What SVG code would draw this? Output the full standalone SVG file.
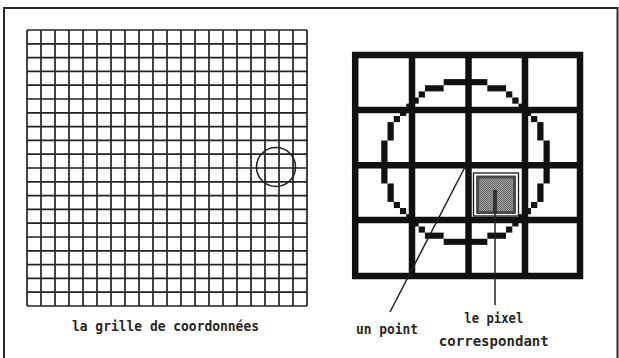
<svg xmlns="http://www.w3.org/2000/svg" width="619" height="358" viewBox="0 0 619 358">
<defs>
<pattern id="tramé" width="2" height="2" patternUnits="userSpaceOnUse">
<rect width="2" height="2" fill="#a4a4a4"/>
<rect width="1" height="1" fill="#666"/>
<rect x="1" y="1" width="1" height="1" fill="#666"/>
</pattern>
</defs>
<style>
.frame{fill:none;stroke:#2a2a2a;stroke-width:2}
.fine{fill:none;stroke:#222;stroke-width:1.7}
.thick{fill:none;stroke:#111;stroke-width:6.5}
.px{fill:#111}
.lead{fill:none;stroke:#222;stroke-width:1.5}
.lbl{font-family:"DejaVu Sans Mono","Liberation Mono",monospace;font-size:14.5px;font-weight:bold;fill:#262626;text-anchor:middle}
</style>
<rect width="619" height="358" fill="#fff"/>
<path class="frame" d="M4 358V8H617.5V358"/>

<g id="grille-coordonnees">
<path class="fine" d="M27 30V306M41 30V306M55 30V306M69 30V306M83 30V306M97 30V306M111 30V306M125 30V306M139 30V306M153 30V306M167 30V306M181 30V306M195 30V306M209 30V306M223 30V306M237 30V306M251 30V306M265 30V306M279 30V306M293 30V306M307 30V306M27 30H307M27 43.8H307M27 57.6H307M27 71.4H307M27 85.2H307M27 99H307M27 112.8H307M27 126.6H307M27 140.4H307M27 154.2H307M27 168H307M27 181.8H307M27 195.6H307M27 209.4H307M27 223.2H307M27 237H307M27 250.8H307M27 264.6H307M27 278.4H307M27 292.2H307M27 306H307"/>
<circle cx="276" cy="167" r="19.5" fill="none" stroke="#222" stroke-width="1.6"/>
<text class="lbl" x="165.5" y="330.5" textLength="187" lengthAdjust="spacingAndGlyphs">la grille de coordonnées</text>
</g>

<g id="grille-pixels">
<g class="px">
<rect x="443.66" y="79.11" width="43.68" height="6.14"/>
<rect x="424.94" y="85.25" width="18.72" height="6.14"/>
<rect x="487.34" y="85.25" width="18.72" height="6.14"/>
<rect x="418.7" y="91.39" width="6.24" height="6.14"/>
<rect x="506.06" y="91.39" width="6.24" height="6.14"/>
<rect x="412.46" y="97.53" width="6.24" height="6.14"/>
<rect x="512.3" y="97.53" width="6.24" height="6.14"/>
<rect x="406.22" y="103.67" width="6.24" height="6.14"/>
<rect x="518.54" y="103.67" width="6.24" height="6.14"/>
<rect x="399.98" y="109.81" width="6.24" height="6.14"/>
<rect x="524.78" y="109.81" width="6.24" height="6.14"/>
<rect x="393.74" y="115.95" width="6.24" height="6.14"/>
<rect x="531.02" y="115.95" width="6.24" height="6.14"/>
<rect x="387.5" y="122.09" width="6.24" height="18.42"/>
<rect x="537.26" y="122.09" width="6.24" height="18.42"/>
<rect x="381.26" y="140.51" width="6.24" height="42.98"/>
<rect x="543.5" y="140.51" width="6.24" height="42.98"/>
<rect x="387.5" y="183.49" width="6.24" height="18.42"/>
<rect x="537.26" y="183.49" width="6.24" height="18.42"/>
<rect x="393.74" y="201.91" width="6.24" height="6.14"/>
<rect x="531.02" y="201.91" width="6.24" height="6.14"/>
<rect x="399.98" y="208.05" width="6.24" height="6.14"/>
<rect x="524.78" y="208.05" width="6.24" height="6.14"/>
<rect x="406.22" y="214.19" width="6.24" height="6.14"/>
<rect x="518.54" y="214.19" width="6.24" height="6.14"/>
<rect x="412.46" y="220.33" width="6.24" height="6.14"/>
<rect x="512.3" y="220.33" width="6.24" height="6.14"/>
<rect x="418.7" y="226.47" width="6.24" height="6.14"/>
<rect x="506.06" y="226.47" width="6.24" height="6.14"/>
<rect x="424.94" y="232.61" width="18.72" height="6.14"/>
<rect x="487.34" y="232.61" width="18.72" height="6.14"/>
<rect x="443.66" y="238.75" width="43.68" height="6.14"/>
</g>
<path class="thick" d="M355.2 51.75V279.25M412 51.75V279.25M468.5 51.75V279.25M525 51.75V279.25M580 51.75V279.25M351.95 55H583.25M351.95 110H583.25M351.95 165.3H583.25M351.95 220H583.25M351.95 276H583.25"/>
</g>

<g id="pixel-correspondant">
<rect x="473.5" y="173" width="45" height="43" fill="#fff" stroke="#1a1a1a" stroke-width="1.3"/>
<rect x="477.6" y="177" width="36.9" height="35.5" fill="url(#tramé)" stroke="#4a4a4a" stroke-width="3"/>
<rect x="493" y="190" width="4" height="24" fill="#333"/>
</g>

<g id="connecteurs">
<path class="lead" d="M465 167L390 312"/>
<path class="lead" d="M495 212V305"/>
</g>

<g id="label-un-point">
<text class="lbl" x="387" y="334" textLength="62" lengthAdjust="spacingAndGlyphs">un point</text>
</g>
<g id="label-pixel">
<text class="lbl" x="493.8" y="322.5" textLength="59" lengthAdjust="spacingAndGlyphs">le pixel</text>
<text class="lbl" x="493.8" y="345.5" textLength="110" lengthAdjust="spacingAndGlyphs">correspondant</text>
</g>
</svg>
